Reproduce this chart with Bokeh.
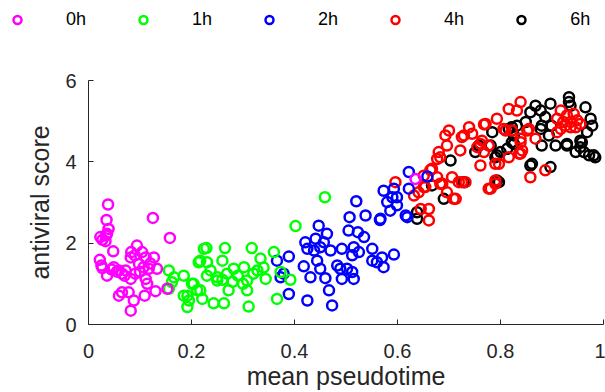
from bokeh.plotting import figure
from bokeh.models import Legend, LegendItem, FixedTicker, Range1d, ColumnDataSource
from bokeh.embed import file_html
from bokeh.resources import INLINE

groups = ["0h", "1h", "2h", "4h", "6h"]
colors = ["#ff00ff", "#00ff00", "#0000ff", "#ff0000", "#000000"]

x_ticks = [0, 0.2, 0.4, 0.6, 0.8, 1]
x_tick_labels = ["0", "0.2", "0.4", "0.6", "0.8", "1"]
y_ticks = [0, 2, 4, 6]
y_tick_labels = ["0", "2", "4", "6"]

h0 = [(0.038, 2.95), (0.035, 2.57), (0.039, 2.35), (0.036, 2.23), (0.034, 2.19), (0.027, 2.08),
      (0.033, 2.05), (0.023, 2.15), (0.125, 2.62), (0.158, 2.13), (0.048, 1.80), (0.094, 1.94),
      (0.083, 1.78), (0.090, 1.70), (0.104, 1.78), (0.022, 1.59), (0.027, 1.39), (0.036, 1.20),
      (0.025, 1.45), (0.049, 1.41), (0.059, 1.33), (0.065, 1.25), (0.072, 1.33), (0.082, 1.65),
      (0.111, 1.65), (0.127, 1.65), (0.098, 1.49), (0.107, 1.41), (0.117, 1.37), (0.133, 1.37),
      (0.091, 1.25), (0.111, 1.12), (0.114, 1.00), (0.082, 1.12), (0.065, 0.79), (0.059, 0.71),
      (0.078, 0.79), (0.088, 0.59), (0.082, 0.34), (0.109, 0.71), (0.130, 0.82), (0.153, 0.88),
      (0.055, 1.30), (0.070, 1.20), (0.045, 1.35), (0.100, 1.30), (0.120, 1.50), (0.635, 3.58)]

h1 = [(0.459, 3.13), (0.402, 2.42), (0.229, 1.88), (0.265, 1.88), (0.317, 1.88), (0.360, 1.78),
      (0.217, 1.57), (0.185, 1.20), (0.260, 1.57), (0.334, 1.62), (0.373, 1.29), (0.392, 1.10),
      (0.366, 0.63), (0.311, 0.44), (0.243, 0.52), (0.263, 0.52), (0.192, 0.43), (0.272, 0.84),
      (0.204, 1.00), (0.230, 1.20), (0.250, 1.08), (0.282, 1.37), (0.308, 1.08), (0.344, 1.12),
      (0.328, 1.33), (0.302, 1.41), (0.217, 0.84), (0.192, 0.71), (0.308, 0.84), (0.237, 1.33),
      (0.269, 1.25), (0.156, 1.33), (0.166, 1.16), (0.156, 0.88), (0.162, 1.04), (0.185, 0.71),
      (0.195, 0.59), (0.224, 1.86), (0.214, 1.53), (0.230, 1.53), (0.201, 1.00), (0.211, 0.84),
      (0.221, 0.63), (0.250, 1.16), (0.290, 1.20), (0.320, 1.25), (0.260, 1.10), (0.300, 1.00),
      (0.340, 1.40), (0.280, 1.05)]

h2 = [(0.520, 3.03), (0.507, 2.64), (0.538, 2.68), (0.566, 2.57), (0.447, 2.43), (0.463, 2.23),
      (0.505, 2.31), (0.523, 2.27), (0.535, 2.15), (0.421, 2.02), (0.441, 2.11), (0.457, 2.02),
      (0.425, 1.86), (0.438, 1.82), (0.450, 1.90), (0.470, 1.82), (0.492, 1.86), (0.515, 1.90),
      (0.525, 1.78), (0.551, 1.86), (0.570, 1.65), (0.593, 1.72), (0.512, 1.70), (0.389, 1.67),
      (0.366, 1.57), (0.418, 1.43), (0.444, 1.57), (0.450, 1.37), (0.483, 1.45), (0.489, 1.37),
      (0.502, 1.37), (0.512, 1.29), (0.551, 1.57), (0.560, 1.53), (0.573, 1.41), (0.431, 1.16),
      (0.460, 1.14), (0.492, 1.12), (0.515, 1.12), (0.379, 1.25), (0.467, 0.84), (0.389, 0.75),
      (0.425, 0.59), (0.473, 0.47), (0.580, 3.01), (0.590, 3.13), (0.573, 3.29), (0.586, 2.80),
      (0.599, 2.93), (0.619, 2.64), (0.593, 3.34), (0.567, 2.60), (0.616, 2.68), (0.622, 3.75),
      (0.658, 3.64), (0.622, 3.34), (0.599, 3.13), (0.373, 1.16)]

h4 = [(0.700, 4.77), (0.739, 4.85), (0.768, 4.92), (0.729, 4.65), (0.745, 4.69), (0.696, 4.40),
      (0.680, 4.24), (0.683, 4.11), (0.722, 4.28), (0.755, 4.36), (0.761, 4.44), (0.777, 4.40),
      (0.768, 4.24), (0.810, 4.77), (0.852, 4.77), (0.868, 4.57), (0.839, 4.48), (0.816, 4.11),
      (0.839, 4.20), (0.761, 3.91), (0.790, 3.95), (0.790, 3.54), (0.781, 3.34), (0.858, 3.62),
      (0.887, 3.79), (0.667, 3.83), (0.651, 3.66), (0.706, 3.62), (0.683, 3.46), (0.719, 3.50),
      (0.732, 3.50), (0.696, 3.25), (0.709, 3.09), (0.632, 3.17), (0.651, 3.38), (0.596, 3.50),
      (0.645, 2.84), (0.661, 2.84), (0.661, 2.56), (0.926, 4.89), (0.946, 4.85), (0.910, 4.73),
      (0.955, 4.93), (0.839, 5.47), (0.816, 5.30), (0.832, 5.26), (0.793, 5.06), (0.771, 4.93),
      (0.806, 4.81), (0.822, 4.77), (0.855, 4.81), (0.839, 4.57), (0.764, 4.52), (0.842, 4.28),
      (0.836, 4.20), (0.797, 3.95), (0.917, 5.26), (0.929, 5.14), (0.942, 5.18), (0.910, 5.06),
      (0.922, 4.98), (0.936, 4.98), (0.949, 5.02), (0.917, 4.81), (0.936, 4.85), (0.693, 4.65),
      (0.725, 4.61), (0.677, 4.07), (0.664, 3.80), (0.677, 3.62), (0.725, 3.50), (0.687, 3.46),
      (0.654, 3.38), (0.641, 3.25), (0.713, 3.09), (0.777, 3.34), (0.790, 3.46)]

h6 = [(0.868, 5.38), (0.878, 5.26), (0.897, 5.43), (0.933, 5.59), (0.933, 5.47), (0.936, 5.38),
      (0.965, 5.34), (0.858, 5.22), (0.887, 5.10), (0.975, 5.06), (0.978, 4.89), (0.968, 4.73),
      (0.849, 4.98), (0.832, 4.89), (0.816, 4.81), (0.878, 4.81), (0.894, 4.65), (0.784, 4.73),
      (0.880, 4.40), (0.907, 4.40), (0.929, 4.40), (0.955, 4.52), (0.962, 4.24), (0.946, 4.24),
      (0.972, 4.16), (0.984, 4.11), (0.826, 4.44), (0.813, 4.32), (0.800, 4.24), (0.790, 4.11),
      (0.858, 3.91), (0.897, 3.87), (0.797, 3.50), (0.826, 4.65), (0.703, 4.03), (0.729, 3.50),
      (0.690, 3.09), (0.638, 2.76), (0.793, 4.16), (0.793, 3.54), (0.822, 4.85), (0.822, 4.48),
      (0.861, 3.95), (0.880, 4.89), (0.899, 4.89), (0.929, 4.44), (0.955, 4.36), (0.981, 4.16),
      (0.758, 4.40), (0.751, 4.24), (0.781, 4.40), (0.667, 3.42), (0.638, 2.60), (0.958, 4.48)]

series = [h0, h1, h2, h4, h6]

FONT = "Liberation Sans"
AX = "#262626"
MSIZE = 10
MLW = 2.5

sources = {g: ColumnDataSource(dict(x=[a for a, b in pts], y=[b for a, b in pts]))
           for g, pts in zip(groups, series)}

# ---- legend strip (top): its own figure whose view range holds no data ----
leg = figure(width=605, height=38, output_backend="svg", toolbar_location=None,
             x_range=Range1d(-3, -2), y_range=Range1d(-3, -2),
             x_axis_location=None, y_axis_location=None, min_border=0)
leg.outline_line_color = None
leg.xgrid.visible = False
leg.ygrid.visible = False
leg.background_fill_color = "white"
leg.border_fill_color = "white"
leg_items = []
for name, col in zip(groups, colors):
    r = leg.scatter("x", "y", source=sources[name], marker="circle", size=MSIZE,
                    fill_color=None, line_color=col, line_width=MLW)
    leg_items.append(LegendItem(label=name, renderers=[r]))
legend = Legend(items=leg_items, orientation="horizontal", location="center_left",
                glyph_width=20, glyph_height=20, label_height=20, label_width=20,
                label_standoff=39, spacing=47, padding=0, margin=7,
                border_line_color=None, background_fill_alpha=0,
                label_text_font=FONT, label_text_font_size="18px", label_text_color="black")
leg.add_layout(legend, "center")

# ---- main scatter ----
p = figure(width=605, height=354, output_backend="svg", toolbar_location=None,
           x_range=Range1d(0, 1), y_range=Range1d(0, 6),
           min_border_left=88, min_border_right=2, min_border_top=42, min_border_bottom=68)
p.background_fill_color = "white"
p.border_fill_color = "white"
p.outline_line_color = None
p.xgrid.visible = False
p.ygrid.visible = False

for name, col in reversed(list(zip(groups, colors))):
    p.scatter("x", "y", source=sources[name], marker="circle", size=MSIZE,
              fill_color=None, line_color=col, line_width=MLW)

for ax in (p.xaxis[0], p.yaxis[0]):
    ax.axis_line_color = AX
    ax.major_tick_line_color = AX
    ax.minor_tick_line_color = None
    ax.major_tick_in = 5
    ax.major_tick_out = 0
    ax.major_label_text_font = FONT
    ax.major_label_text_font_size = "20px"
    ax.major_label_text_color = AX
    ax.axis_label_text_font = FONT
    ax.axis_label_text_font_size = "25px"
    ax.axis_label_text_font_style = "normal"
    ax.axis_label_text_color = AX

p.xaxis.ticker = FixedTicker(ticks=x_ticks)
p.xaxis.major_label_overrides = {t: l for t, l in zip(x_ticks, x_tick_labels)}
p.yaxis.ticker = FixedTicker(ticks=y_ticks)
p.yaxis.major_label_overrides = {t: l for t, l in zip(y_ticks, y_tick_labels)}
p.xaxis.axis_label = "mean pseudotime"
p.yaxis.axis_label = "antiviral score"
p.xaxis.major_label_standoff = 19
p.xaxis.axis_label_standoff = 1
p.yaxis.major_label_standoff = 12
p.yaxis.axis_label_standoff = 8

open("out.html", "w").write(file_html([leg, p], INLINE))
